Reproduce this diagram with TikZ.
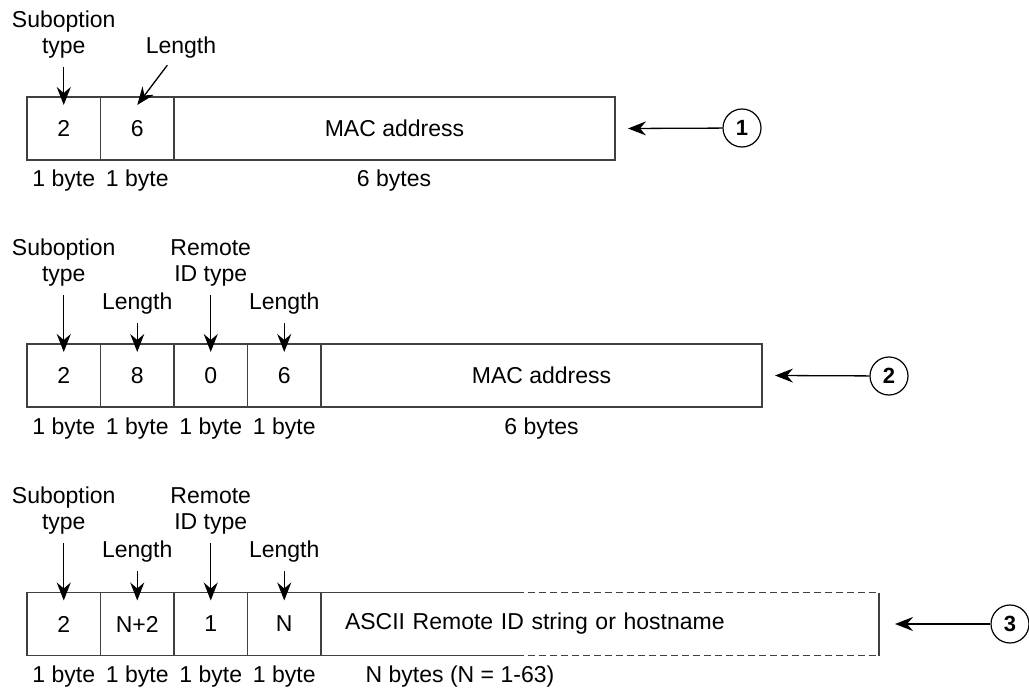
\documentclass[tikz,border=0pt]{standalone}
\usepackage{fontspec}
\setmainfont{Liberation Sans}
\usetikzlibrary{positioning,arrows.meta}

\begin{document}
\begin{tikzpicture}[x=1pt,y=-1pt,
  font=\fontsize{23}{26}\selectfont,
  cell/.style={draw=black!75,line width=1.4pt,minimum width=73.5pt,minimum height=63pt,inner sep=0pt,outer sep=0pt},
  wide/.style={cell,minimum width=441pt},
  boxline/.style={draw=black!75,line width=1.4pt},
  dashline/.style={boxline,dash pattern=on 7pt off 4pt},
  lbl/.style={inner sep=0pt,align=center},
  arr/.style={-{Stealth[length=18pt,width=14pt,inset=6pt]},line width=1.3pt,shorten <=9pt},
  point/.style={arr,shorten <=0pt},
  num/.style={circle,draw,line width=1.2pt,minimum size=38pt,inner sep=0pt,font=\fontsize{22}{26}\selectfont\bfseries}]
\useasboundingbox (0,0) rectangle (1029,690);

% MAC address only
\node[cell] (a1) at (63.75,128.5) {2};
\node[cell,right=0pt of a1] (a2) {6};
\node[wide,right=0pt of a2] (a3) {MAC address};

\node[lbl,anchor=south] (st1) at (63.75,58) {Suboption\\type};
\node[lbl,anchor=south] (ln1) at (181,58) {Length};
\draw[arr] (st1.south) -- ([yshift=-8pt]a1.north);
\draw[arr] (ln1) -- ([yshift=-8pt]a2.north);

\node[lbl,anchor=base] (ba1) at (63.75,187) {1 byte};
\node[lbl,anchor=base] (ba2) at (137.25,187) {1 byte};
\node[lbl,anchor=base] (ba3) at (394,187) {6 bytes};

\node[num] (n1) at (742,128) {1};
\draw[point] (n1) -- ([xshift=13pt]a3.east);

% remote ID with MAC address
\node[cell] (b1) at (63.75,375.5) {2};
\node[cell,right=0pt of b1] (b2) {8};
\node[cell,right=0pt of b2] (b3) {0};
\node[cell,right=0pt of b3] (b4) {6};
\node[wide,right=0pt of b4] (b5) {MAC address};

\node[lbl,anchor=south] (st2) at (63.75,286) {Suboption\\type};
\node[lbl,anchor=south] (rm2) at (210.75,286) {Remote\\ID type};
\node[lbl,anchor=south] (ln2a) at (137.25,314) {Length};
\node[lbl,anchor=south] (ln2b) at (284.25,314) {Length};
\draw[arr] (st2.south) -- ([yshift=-8pt]b1.north);
\draw[arr] (ln2a.south) -- ([yshift=-8pt]b2.north);
\draw[arr] (rm2.south) -- ([yshift=-8pt]b3.north);
\draw[arr] (ln2b.south) -- ([yshift=-8pt]b4.north);

\node[lbl,anchor=base] (bb1) at (63.75,434) {1 byte};
\node[lbl,anchor=base] (bb2) at (137.25,434) {1 byte};
\node[lbl,anchor=base] (bb3) at (210.75,434) {1 byte};
\node[lbl,anchor=base] (bb4) at (284.25,434) {1 byte};
\node[lbl,anchor=base] (bb5) at (541.5,434) {6 bytes};

\node[num] (n2) at (889,376) {2};
\draw[point] (n2) -- ([xshift=13pt]b5.east);

% remote ID as string
\node[cell] (c1) at (63.75,624) {2};
\node[cell,right=0pt of c1] (c2) {N+2};
\node[cell,right=0pt of c2] (c3) {1};
\node[cell,right=0pt of c3] (c4) {N};
\node[cell,draw=none,right=0pt of c4,text width=510pt,inner xsep=24pt,align=left] (c5) {ASCII Remote ID string or hostname};
\draw[boxline] (c5.north west) -- ++(196,0);
\draw[dashline] ([xshift=196pt]c5.north west) -- (c5.north east);
\draw[boxline] (c5.north east) -- (c5.south east);
\draw[dashline] ([xshift=196pt]c5.south west) -- (c5.south east);
\draw[boxline] (c5.south west) -- ++(196,0);

\node[lbl,anchor=south] (st3) at (63.75,534) {Suboption\\type};
\node[lbl,anchor=south] (rm3) at (210.75,534) {Remote\\ID type};
\node[lbl,anchor=south] (ln3a) at (137.25,562) {Length};
\node[lbl,anchor=south] (ln3b) at (284.25,562) {Length};
\draw[arr] (st3.south) -- ([yshift=-8pt]c1.north);
\draw[arr] (ln3a.south) -- ([yshift=-8pt]c2.north);
\draw[arr] (rm3.south) -- ([yshift=-8pt]c3.north);
\draw[arr] (ln3b.south) -- ([yshift=-8pt]c4.north);

\node[lbl,anchor=base] (bc1) at (63.75,682) {1 byte};
\node[lbl,anchor=base] (bc2) at (137.25,682) {1 byte};
\node[lbl,anchor=base] (bc3) at (210.75,682) {1 byte};
\node[lbl,anchor=base] (bc4) at (284.25,682) {1 byte};
\node[lbl,anchor=base] (bc5) at (460,682) {N bytes (N = 1-63)};

\node[num] (n3) at (1010,624) {3};
\draw[point] (n3) -- ([xshift=16pt]c5.east);
\end{tikzpicture}
\end{document}
